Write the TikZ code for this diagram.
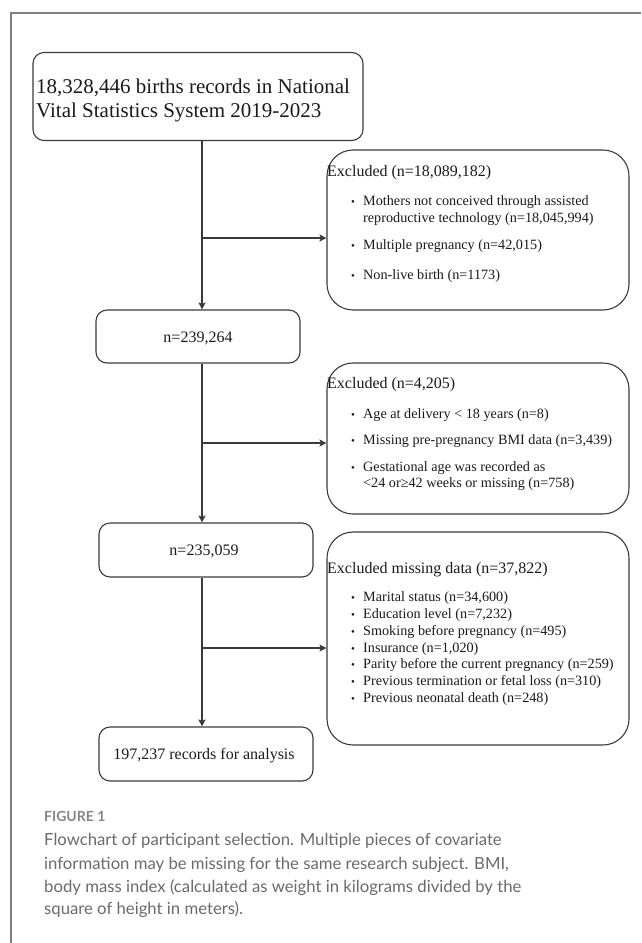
\documentclass[tikz,border=0pt]{standalone}
\usepackage{fontspec}
\setmainfont{Liberation Serif}
\newfontfamily\capfont{Lato}
\usetikzlibrary{arrows.meta}
\definecolor{linec}{HTML}{3A3A3A}
\definecolor{txtc}{HTML}{1A1A1A}
\definecolor{framec}{HTML}{808080}
\definecolor{capc}{HTML}{6A6A6A}
\definecolor{figc}{HTML}{858585}
\newcommand\fzTop{\fontsize{21}{25}\selectfont}
\newcommand\fzHead{\fontsize{16}{19}\selectfont}
\newcommand\fzItem{\fontsize{14.2}{17}\selectfont}
\newcommand\fzCap{\capfont\fontsize{16.7}{23}\selectfont}
\newcommand\fzFig{\capfont\bfseries\fontsize{14}{17}\selectfont}
\tikzset{
  mainbox/.style={draw=linec, line width=1.1pt, rounded corners=11pt, inner sep=0pt},
  exbox/.style={draw=linec, line width=1.1pt, rounded corners=26pt, inner sep=0pt},
  txt/.style={anchor=base west, inner sep=0pt, text=txtc},
  ctxt/.style={anchor=base, inner sep=0pt, text=txtc, font=\fzHead},
  hd/.style={txt, font=\fzHead},
  itm/.style={txt, font=\fzItem},
  dot/.style={anchor=base, inner sep=0pt, text=txtc, font=\fontsize{11}{11}\selectfont},
  captxt/.style={anchor=base west, inner sep=0pt, text=capc, font=\fzCap},
  arr/.style={draw=linec, line width=1.1pt, -{Stealth[length=7pt,width=7pt,inset=1.5pt]}},
}
\begin{document}
\begin{tikzpicture}[x=1pt, y=-1pt]
\useasboundingbox (0,0) rectangle (641,943);
% outer frame
\draw[framec, line width=1.4pt] (11,943) -- (11,13) -- (641,13);

% main boxes
\node[mainbox, minimum width=330pt, minimum height=88pt] (top) at (198,96.5) {};
\node[mainbox, minimum width=204pt, minimum height=53pt] (n1) at (198,336.5) {};
\node[mainbox, minimum width=214pt, minimum height=54pt] (n2) at (206,550) {};
\node[mainbox, minimum width=214pt, minimum height=54pt] (fin) at (206,754) {};

% exclusion boxes
\node[exbox, minimum width=302pt, minimum height=160pt] (ex1) at (478,230) {};
\node[exbox, minimum width=302pt, minimum height=151pt] (ex2) at (478,438.5) {};
\node[exbox, minimum width=302pt, minimum height=213pt] (ex3) at (478,638.5) {};

% texts of main boxes
\node[txt, font=\fzTop] (t1) at (36,93) {18,328,446 births records in National};
\node[txt, font=\fzTop] (t2) at (36,117) {Vital Statistics System 2019-2023};
\node[ctxt] (n1t) at (198,342) {n=239,264};
\node[ctxt] (n2t) at (204,555) {n=235,059};
\node[ctxt] (fint) at (204,759) {197,237 records for analysis};

% exclusion box 1
\node[hd] (e1h) at (327,176) {Excluded (n=18,089,182)};
\node[dot] (e1d1) at (353,205) {•};
\node[itm] (e1a) at (363,205) {Mothers not conceived through assisted};
\node[itm] (e1b) at (363,222) {reproductive technology (n=18,045,994)};
\node[dot] (e1d2) at (353,249) {•};
\node[itm] (e1c) at (363,249) {Multiple pregnancy (n=42,015)};
\node[dot] (e1d3) at (353,279) {•};
\node[itm] (e1e) at (363,279) {Non-live birth (n=1173)};

% exclusion box 2
\node[hd] (e2h) at (327,388) {Excluded (n=4,205)};
\node[dot] (e2d1) at (353,418) {•};
\node[itm] (e2a) at (363,418) {Age at delivery < 18 years (n=8)};
\node[dot] (e2d2) at (353,444) {•};
\node[itm] (e2b) at (363,444) {Missing pre-pregnancy BMI data (n=3,439)};
\node[dot] (e2d3) at (353,471) {•};
\node[itm] (e2c) at (363,471) {Gestational age was recorded as};
\node[itm] (e2e) at (363,487) {<24 or≥42 weeks or missing (n=758)};

% exclusion box 3
\node[hd] (e3h) at (327,573) {Excluded missing data (n=37,822)};
\node[dot] (e3d1) at (353,601) {•};
\node[itm] (e3a) at (363,601) {Marital status (n=34,600)};
\node[dot] (e3d2) at (353,618) {•};
\node[itm] (e3b) at (363,618) {Education level (n=7,232)};
\node[dot] (e3d3) at (353,635) {•};
\node[itm] (e3c) at (363,635) {Smoking before pregnancy (n=495)};
\node[dot] (e3d4) at (353,652) {•};
\node[itm] (e3e) at (363,652) {Insurance (n=1,020)};
\node[dot] (e3d5) at (353,668) {•};
\node[itm] (e3f) at (363,668) {Parity before the current pregnancy (n=259)};
\node[dot] (e3d6) at (353,685) {•};
\node[itm] (e3g) at (363,685) {Previous termination or fetal loss (n=310)};
\node[dot] (e3d7) at (353,702) {•};
\node[itm] (e3i) at (363,702) {Previous neonatal death (n=248)};

% connectors
\coordinate (axis) at (202,0);
\coordinate (b1) at (202,238);
\coordinate (b2) at (202,443);
\coordinate (b3) at (202,648);
\draw[arr] (top.south -| axis) -- (n1.north -| axis);
\draw[arr] (n1.south -| axis) -- (n2.north -| axis);
\draw[arr] (n2.south -| axis) -- (fin.north -| axis);
\draw[arr] (b1) -- (b1 -| ex1.west);
\draw[arr] (b2) -- (b2 -| ex2.west);
\draw[arr] (b3) -- (b3 -| ex3.west);

% caption
\node[anchor=base west, inner sep=0pt, text=figc, font=\fzFig] (fig) at (44,821) {FIGURE 1};
\node[captxt] (c1) at (44,845) {Flowchart of participant selection. Multiple pieces of covariate};
\node[captxt] (c2) at (44,869) {information may be missing for the same research subject. BMI,};
\node[captxt] (c3) at (44,892) {body mass index (calculated as weight in kilograms divided by the};
\node[captxt] (c4) at (44,914) {square of height in meters).};
\end{tikzpicture}
\end{document}
